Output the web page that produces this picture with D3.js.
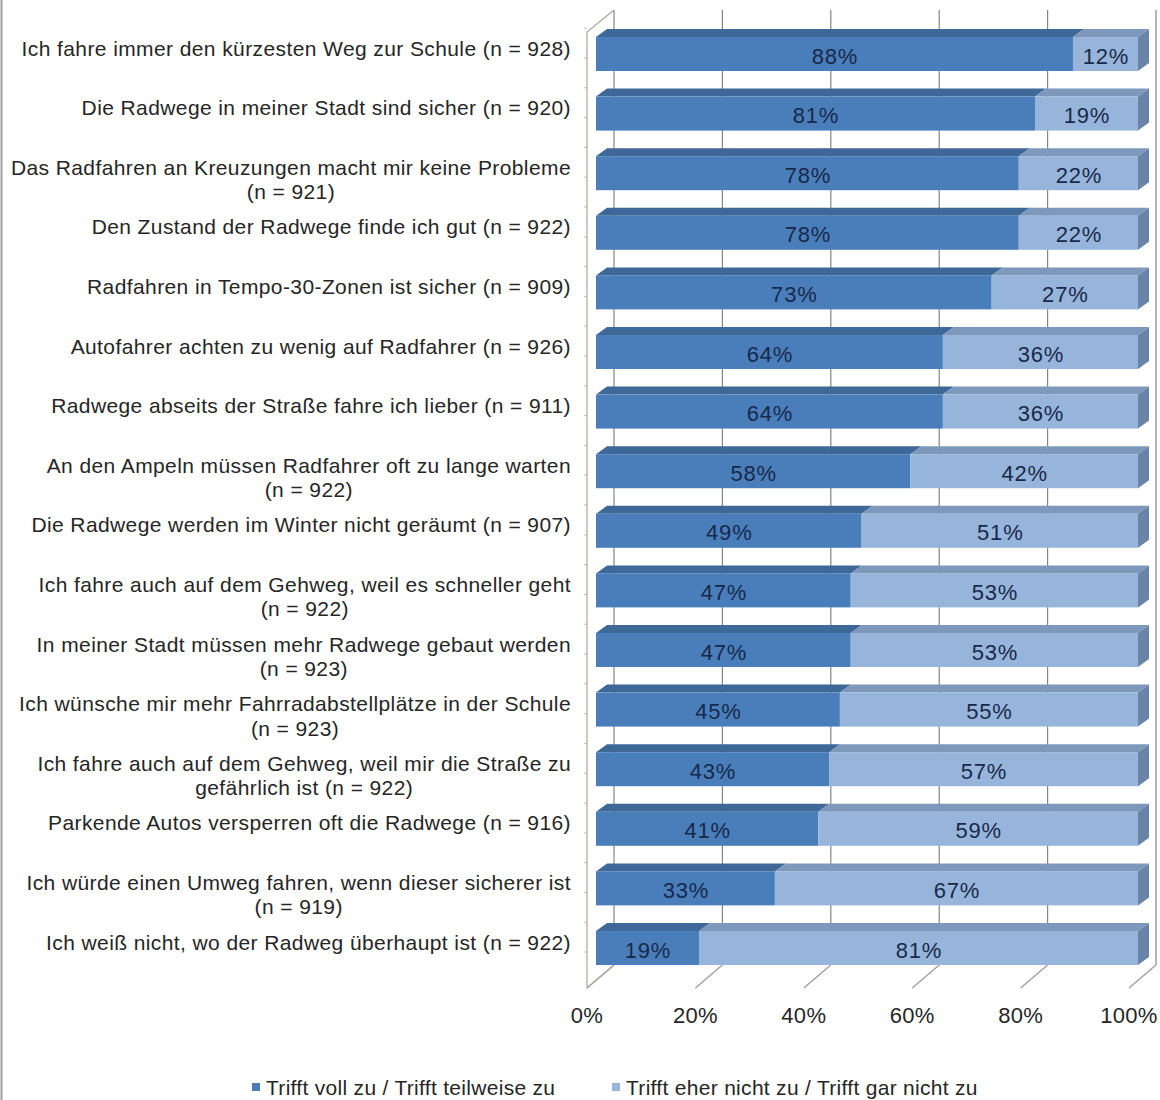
<!DOCTYPE html>
<html><head><meta charset="utf-8">
<script src="https://cdn.jsdelivr.net/npm/d3@7"></script>
<style>
html,body{margin:0;padding:0;background:#fff;}
svg{display:block;font-family:"Liberation Sans",Arial,sans-serif;}
</style></head>
<body>
<svg id="chart" width="1160" height="1100"></svg>
<script>
const categories = [
  "Ich fahre immer den kürzesten Weg zur Schule (n = 928)",
  "Die Radwege in meiner Stadt sind sicher (n = 920)",
  "Das Radfahren an Kreuzungen macht mir keine Probleme\n(n = 921)",
  "Den Zustand der Radwege finde ich gut (n = 922)",
  "Radfahren in Tempo-30-Zonen ist sicher (n = 909)",
  "Autofahrer achten zu wenig auf Radfahrer (n = 926)",
  "Radwege abseits der Straße fahre ich lieber (n = 911)",
  "An den Ampeln müssen Radfahrer oft zu lange warten\n(n = 922)",
  "Die Radwege werden im Winter nicht geräumt (n = 907)",
  "Ich fahre auch auf dem Gehweg, weil es schneller geht\n(n = 922)",
  "In meiner Stadt müssen mehr Radwege gebaut werden\n(n = 923)",
  "Ich wünsche mir mehr Fahrradabstellplätze in der Schule\n(n = 923)",
  "Ich fahre auch auf dem Gehweg, weil mir die Straße zu\ngefährlich ist (n = 922)",
  "Parkende Autos versperren oft die Radwege (n = 916)",
  "Ich würde einen Umweg fahren, wenn dieser sicherer ist\n(n = 919)",
  "Ich weiß nicht, wo der Radweg überhaupt ist (n = 922)"
];
const agree    = [88, 81, 78, 78, 73, 64, 64, 58, 49, 47, 47, 45, 43, 41, 33, 19];
const disagree = [12, 19, 22, 22, 27, 36, 36, 42, 51, 53, 53, 55, 57, 59, 67, 81];
const seriesNames = ["Trifft voll zu / Trifft teilweise zu", "Trifft eher nicht zu / Trifft gar nicht zu"];
const xTicks = [0, 20, 40, 60, 80, 100];

const svg = d3.select("#chart");
const colors = {
  front: ["#4a7ebb", "#97b5da"],
  top:   ["#3d6898", "#7d98bb"],
  side:  "#6a84a8"
};

// scales (front plane of bars)
const x = d3.scaleLinear().domain([0, 100]).range([596, 1138]);
const y = d3.scaleBand().domain(d3.range(categories.length)).range([24.2, 977.8]).paddingInner(0.43).paddingOuter(0.215);

// wall geometry (depth): floor front is shifted -9 px, back wall +18 px relative to bar front x
const wallFrontDx = -9, wallBackDx = 18;
const backTop = 10, backBottom = 965, frontBottom = 988, frontTop = 32;
const barDx = 11, barDy = -8;

// chart border (left)
svg.append("line").attr("x1", 1.5).attr("x2", 1.5).attr("y1", 0).attr("y2", 1100)
  .attr("stroke", "#a0a0a0").attr("stroke-width", 2);

// back wall gridlines
const g = svg.append("g");
g.selectAll("line.grid").data(xTicks).join("line").attr("class", "grid")
  .attr("x1", d => x(d) + wallBackDx).attr("x2", d => x(d) + wallBackDx)
  .attr("y1", backTop).attr("y2", backBottom)
  .attr("stroke", "#858585").attr("stroke-width", 1.2);

// floor tick slashes
g.selectAll("line.floor").data(xTicks).join("line").attr("class", "floor")
  .attr("x1", d => x(d) + wallFrontDx).attr("y1", frontBottom)
  .attr("x2", d => x(d) + wallBackDx).attr("y2", backBottom)
  .attr("stroke", "#9a9a9a").attr("stroke-width", 1.2);

// left wall edges
const lx0 = x(0) + wallFrontDx, lx1 = x(0) + wallBackDx;
g.append("path")
  .attr("d", `M${lx1},${backTop} L${lx0},${frontTop} L${lx0},${frontBottom} L${lx1},${backBottom}`)
  .attr("fill", "none").attr("stroke", "#b5a493").attr("stroke-width", 1.2);

// small ticks on left wall
const tickYs = [];
categories.forEach((c, i) => { tickYs.push(y(i) - (y.step() - y.bandwidth()) / 2 + 4); tickYs.push(y(i) + y.bandwidth() / 2 + 4); });
g.selectAll("line.ltick").data(tickYs).join("line").attr("class", "ltick")
  .attr("x1", lx0 - 3).attr("x2", lx0).attr("y1", d => d).attr("y2", d => d)
  .attr("stroke", "#c9b8a8").attr("stroke-width", 1);

// bars
const stacks = categories.map((c, i) => {
  const a = agree[i], b = disagree[i];
  return [{s: 0, v0: 0, v1: a, val: a}, {s: 1, v0: a, v1: a + b, val: b}];
});
const bars = svg.append("g");
categories.forEach((c, i) => {
  const bg = bars.append("g");
  const y0 = y(i), h = y.bandwidth();
  stacks[i].forEach(seg => {
    const xa = x(seg.v0), xb = x(seg.v1);
    // top face
    bg.append("path")
      .attr("d", `M${xa},${y0} L${xa + barDx},${y0 + barDy} L${xb + barDx},${y0 + barDy} L${xb},${y0} Z`)
      .attr("fill", colors.top[seg.s]);
    // front face
    bg.append("rect").attr("x", xa).attr("y", y0).attr("width", xb - xa).attr("height", h)
      .attr("fill", colors.front[seg.s]);
  });
  const xe = x(agree[i] + disagree[i]);
  bg.append("path")
    .attr("d", `M${xe},${y0} L${xe + barDx},${y0 + barDy} L${xe + barDx},${y0 + barDy + h} L${xe},${y0 + h} Z`)
    .attr("fill", colors.side);
  // data labels
  stacks[i].forEach(seg => {
    bg.append("text")
      .attr("x", (x(seg.v0) + x(seg.v1)) / 2 + 0.5)
      .attr("y", y0 + h / 2 + 2)
      .attr("text-anchor", "middle").attr("dominant-baseline", "central")
      .attr("font-size", 22).attr("letter-spacing", "0.8px")
      .attr("fill", "#17294a").text(seg.val + "%");
  });
});

// category labels
const labels = svg.append("g");
categories.forEach((c, i) => {
  const lines = c.split("\n");
  const t = labels.append("text").attr("font-size", 21).attr("letter-spacing", "0.4px").attr("fill", "#262626")
    .attr("text-anchor", "middle").attr("dominant-baseline", "central");
  const tspans = lines.map((ln, k) => t.append("tspan").attr("y", y(i) + y.bandwidth() / 2 - 6.5 + k * 24.5).text(ln));
  const w = d3.max(tspans, s => s.node().getComputedTextLength());
  tspans.forEach(s => s.attr("x", 571 - w / 2));
});

// x axis labels
svg.append("g").selectAll("text").data(xTicks).join("text")
  .attr("x", d => x(d) + wallFrontDx).attr("y", 1015)
  .attr("text-anchor", "middle").attr("dominant-baseline", "central")
  .attr("font-size", 22).attr("letter-spacing", "0.3px").attr("fill", "#262626")
  .text(d => d + "%");

// legend
const legX = [252, 612];
const leg = svg.append("g");
seriesNames.forEach((n, k) => {
  leg.append("rect").attr("x", legX[k]).attr("y", 1083).attr("width", 8).attr("height", 8).attr("fill", colors.front[k]);
  leg.append("text").attr("x", legX[k] + 14).attr("y", 1087).attr("dominant-baseline", "central")
    .attr("font-size", 21).attr("letter-spacing", "0.3px").attr("fill", "#262626").text(n);
});
</script>
</body></html>
